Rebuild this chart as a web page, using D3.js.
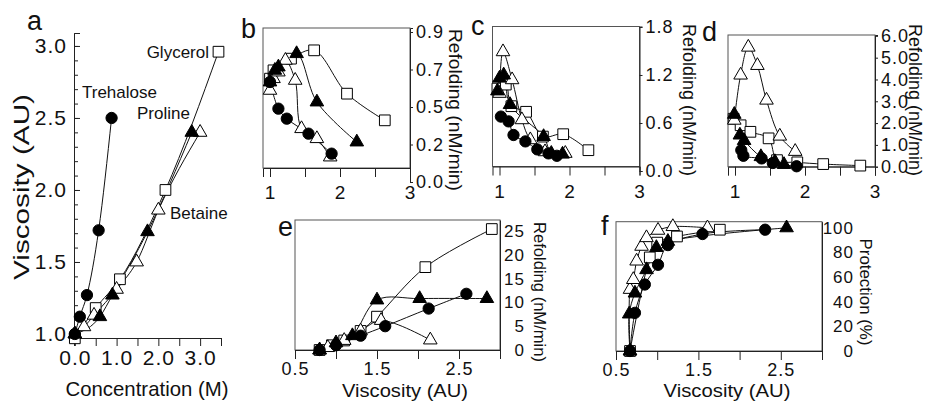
<!DOCTYPE html>
<html>
<head>
<meta charset="utf-8">
<script src="https://cdn.jsdelivr.net/npm/d3@7"></script>
<style>
body { margin: 0; background: #fff; }
svg text { font-family: "Liberation Sans", Arial, Helvetica, sans-serif; fill: #111; }
</style>
</head>
<body>
<div id="chart"></div>
<script>
const svgWidth = 927;
const svgHeight = 404;

// series order used in every panel
const seriesNames = ["Glycerol", "Betaine", "Proline", "Trehalose"];

// a: viscosity (AU) vs concentration (M)
const aGlycerol = [[0, 0.97], [0.5, 1.18], [1.08, 1.38], [2.17, 2.0], [3.44, 2.96]];
const aBetaine = [[0, 1.0], [0.22, 1.05], [0.46, 1.13], [1.0, 1.31], [1.48, 1.5], [2.0, 1.86], [3.0, 2.4]];
const aProline = [[0, 1.0], [0.6, 1.12], [0.9, 1.27], [1.74, 1.71], [2.8, 2.4]];
const aTrehalose = [[0, 1.0], [0.12, 1.12], [0.29, 1.27], [0.57, 1.72], [0.88, 2.5]];

// b: refolding vs viscosity
const bGlycerol = [[1.0, 0.62], [1.05, 0.67], [1.3, 0.74], [1.63, 0.79], [2.1, 0.53], [2.64, 0.37]];
const bBetaine = [[1.0, 0.55], [1.05, 0.62], [1.12, 0.66], [1.22, 0.73], [1.36, 0.61], [1.45, 0.32], [1.67, 0.26], [1.86, 0.15]];
const bProline = [[1.0, 0.6], [1.07, 0.67], [1.12, 0.69], [1.38, 0.77], [1.67, 0.48], [2.24, 0.24]];
const bTrehalose = [[1.0, 0.6], [1.12, 0.44], [1.24, 0.38], [1.55, 0.29], [1.88, 0.17]];

// c
const cGlycerol = [[0.97, 1.03], [1.09, 1.08], [1.17, 0.81], [1.38, 0.74], [1.62, 0.43], [1.91, 0.46], [2.27, 0.26]];
const cBetaine = [[1.0, 0.97], [1.05, 1.49], [1.18, 1.14], [1.32, 0.64], [1.44, 0.39], [1.65, 0.24], [1.94, 0.22]];
const cProline = [[0.97, 1.0], [1.0, 1.16], [1.06, 1.2], [1.15, 0.83], [1.63, 0.43], [1.74, 0.22], [1.9, 0.21]];
const cTrehalose = [[1.02, 0.68], [1.13, 0.62], [1.2, 0.45], [1.37, 0.37], [1.54, 0.27], [1.7, 0.22], [1.82, 0.19]];

// d
const dGlycerol = [[0.98, 2.2], [1.08, 1.9], [1.22, 1.6], [1.48, 1.3], [1.6, 0.3], [1.89, 0.2], [2.26, 0.12], [2.79, 0.05]];
const dBetaine = [[0.99, 2.13], [1.08, 4.2], [1.19, 5.48], [1.32, 4.64], [1.45, 3.05], [1.64, 1.4], [1.86, 0.7]];
const dProline = [[0.99, 2.4], [1.07, 1.45], [1.13, 1.2], [1.37, 0.46], [1.57, 0.23], [1.7, 0.1]];
const dTrehalose = [[1.09, 0.76], [1.12, 0.5], [1.38, 0.38], [1.54, 0.17], [1.88, 0.02]];

// e: refolding vs viscosity
const eGlycerol = [[0.8, 0], [0.95, 1], [1.1, 2], [1.3, 4], [1.5, 7], [2.09, 17.4], [2.9, 25.4]];
const eBetaine = [[0.8, 0], [0.9, 0.5], [1.1, 2], [1.3, 4], [1.55, 6.2], [2.15, 2.1]];
const eProline = [[0.8, 0], [1.0, 1.5], [1.2, 3], [1.5, 10.5], [2.02, 10.8], [2.84, 10.8]];
const eTrehalose = [[0.8, 0], [1.0, 1], [1.3, 3], [1.6, 5.0], [2.13, 8.7], [2.59, 11.8]];

// f: protection (%) vs viscosity
const fGlycerol = [[0.67, 0], [0.91, 76], [1.0, 88], [1.24, 93], [1.76, 98.5]];
const fBetaine = [[0.67, 0], [0.67, 50], [0.71, 58], [0.75, 73], [0.81, 85], [0.87, 92], [1.01, 98], [1.19, 101], [1.61, 100]];
const fProline = [[0.67, 0], [0.66, 30], [0.73, 47], [0.87, 66], [0.99, 84], [1.13, 89], [2.57, 100]];
const fTrehalose = [[0.67, 0], [0.73, 31], [0.85, 54], [1.01, 70], [1.13, 86], [1.55, 95], [2.31, 98.5]];

// tick values and labels
const aXTicks = [0, 1, 2, 3];
const aXTickLabels = ["0.0", "1.0", "2.0", "3.0"];
const aYTicks = [1.0, 1.5, 2.0, 2.5, 3.0];
const aYTickLabels = ["1.0", "1.5", "2.0", "2.5", "3.0"];
const bcdXTicks = [1, 2, 3];
const bcdXTickLabels = ["1", "2", "3"];
const bYTicks = [0, 0.225, 0.45, 0.675, 0.9];
const bYTickLabels = ["0.0", "0.2", "0.5", "0.7", "0.9"];
const cYTicks = [0, 0.6, 1.2, 1.8];
const cYTickLabels = ["0.0", "0.6", "1.2", "1.8"];
const dYTicks = [0, 1, 2, 3, 4, 5, 6];
const dYTickLabels = ["0.0", "1.0", "2.0", "3.0", "4.0", "5.0", "6.0"];
const efXTicks = [0.5, 1.5, 2.5];
const efXTickLabels = ["0.5", "1.5", "2.5"];
const eYTicks = [0, 5, 10, 15, 20, 25];
const eYTickLabels = ["0", "5", "10", "15", "20", "25"];
const fYTicks = [0, 20, 40, 60, 80, 100];
const fYTickLabels = ["0", "20", "40", "60", "80", "100"];

const svg = d3.select("#chart")
  .append("svg")
  .attr("width", svgWidth)
  .attr("height", svgHeight);

// marker look per series
const markStyle = {
  Glycerol: { shape: d3.symbolSquare, size: 115, fill: "#fff" },
  Betaine: { shape: d3.symbolTriangle, size: 80, fill: "#fff" },
  Proline: { shape: d3.symbolTriangle, size: 80, fill: "#000" },
  Trehalose: { shape: d3.symbolCircle, size: 100, fill: "#000" }
};

function labelFor(values, labels) {
  return d => labels[values.indexOf(d)] || "";
}

function drawSeries(g, x, y, list, curve) {
  const line = d3.line().x(d => x(d[0])).y(d => y(d[1])).curve(curve);
  list.forEach(data => {
    g.append("path")
      .datum(data)
      .attr("d", line)
      .attr("fill", "none")
      .attr("stroke", "#111")
      .attr("stroke-width", 1);
  });
  list.forEach((data, i) => {
    const st = markStyle[seriesNames[i]];
    g.selectAll(null)
      .data(data)
      .enter()
      .append("path")
      .attr("transform", d => `translate(${x(d[0])},${y(d[1])})`)
      .attr("d", d3.symbol().type(st.shape).size(st.size))
      .attr("fill", st.fill)
      .attr("stroke", "#000")
      .attr("stroke-width", 1);
  });
}

function styleAxis(sel, fontSize) {
  sel.selectAll("path.domain").attr("stroke", "#222");
  sel.selectAll(".tick line").attr("stroke", "#222");
  sel.selectAll("text")
    .attr("font-family", null)
    .style("font-size", fontSize + "px")
    .style("letter-spacing", "1px")
    .attr("fill", "#111");
}

function frame(g, x0, x1, y0, y1) {
  g.append("rect")
    .attr("x", x0).attr("y", y0)
    .attr("width", x1 - x0).attr("height", y1 - y0)
    .attr("fill", "none")
    .attr("stroke", "#555")
    .attr("stroke-width", 1);
}

function rotatedTitle(text, cx, cy, angle, len, size) {
  svg.append("text")
    .attr("transform", `translate(${cx},${cy}) rotate(${angle})`)
    .attr("text-anchor", "middle")
    .attr("dy", "0.35em")
    .attr("textLength", len)
    .attr("lengthAdjust", "spacingAndGlyphs")
    .style("font-size", size + "px")
    .text(text);
}

function panelLetter(t, x, y) {
  svg.append("text").attr("x", x).attr("y", y).style("font-size", "27px").text(t);
}

// ---------- panel a ----------
const xA = d3.scaleLinear().domain([-0.02, 3.5]).range([74, 221]);
const yA = d3.scaleLinear().domain([0.97, 3.09]).range([338.3, 33]);
const gA = svg.append("g");

gA.append("g")
  .attr("transform", "translate(0,338)")
  .call(d3.axisBottom(xA).tickValues(d3.range(0, 3.51, 0.5)).tickFormat(labelFor(aXTicks, aXTickLabels)).tickSizeOuter(0).tickSize(8).tickPadding(4))
  .call(s => styleAxis(s, 21));

gA.append("g")
  .attr("transform", "translate(74,0)")
  .call(d3.axisLeft(yA).tickValues(d3.range(1.0, 3.05, 0.1)).tickFormat("").tickSizeOuter(0).tickSize(-4))
  .call(s => styleAxis(s, 21));

gA.append("g")
  .attr("transform", "translate(74,0)")
  .call(d3.axisLeft(yA).tickValues(aYTicks).tickFormat(labelFor(aYTicks, aYTickLabels)).tickSizeOuter(0).tickSize(-6).tickPadding(7))
  .call(s => styleAxis(s, 21));

drawSeries(gA, xA, yA, [aGlycerol, aBetaine, aProline, aTrehalose], d3.curveMonotoneX);

gA.append("text").attr("x", 209).attr("y", 58).attr("text-anchor", "end").style("font-size", "17px").text("Glycerol");
gA.append("text").attr("x", 82).attr("y", 98).style("font-size", "17px").text("Trehalose");
gA.append("text").attr("x", 137).attr("y", 119).style("font-size", "17px").text("Proline");
gA.append("text").attr("x", 170).attr("y", 219).style("font-size", "17px").text("Betaine");

svg.append("text").attr("x", 147).attr("y", 396).attr("text-anchor", "middle")
  .attr("textLength", 163).attr("lengthAdjust", "spacingAndGlyphs")
  .style("font-size", "21px").text("Concentration (M)");
rotatedTitle("Viscosity (AU)", 21, 187, -90, 186, 22);
panelLetter("a", 27, 30);

// ---------- panels b, c, d ----------
function topPanel(cfg) {
  const g = svg.append("g");
  frame(g, cfg.x.range()[0], cfg.x.range()[1], cfg.top, cfg.bottom);

  g.append("g")
    .attr("transform", `translate(0,${cfg.bottom})`)
    .call(d3.axisBottom(cfg.x).tickValues([1, 1.5, 2, 2.5, 3]).tickFormat(labelFor(bcdXTicks, bcdXTickLabels)).tickSizeOuter(0).tickSize(9).tickPadding(9))
    .call(s => styleAxis(s, 19));

  g.append("g")
    .attr("transform", `translate(${cfg.x.range()[1]},0)`)
    .call(d3.axisRight(cfg.y).tickValues(cfg.yTicks).tickFormat(labelFor(cfg.yTicks, cfg.yLabels)).tickSizeOuter(0).tickSize(3).tickPadding(3))
    .call(s => styleAxis(s, 18));

  drawSeries(g, cfg.x, cfg.y, cfg.series, d3.curveCatmullRom.alpha(0.5));
}

const xB = d3.scaleLinear().domain([0.9, 3]).range([263, 410]);
const yB = d3.scaleLinear().domain([0, 0.924]).range([182, 28]);
topPanel({ x: xB, y: yB, top: 28, bottom: 168, yTicks: bYTicks, yLabels: bYTickLabels,
  series: [bGlycerol, bBetaine, bProline, bTrehalose] });

const xC = d3.scaleLinear().domain([0.9, 3]).range([492.5, 639.5]);
const yC = d3.scaleLinear().domain([0, 1.806]).range([171, 26.5]);
topPanel({ x: xC, y: yC, top: 26.5, bottom: 166.5, yTicks: cYTicks, yLabels: cYTickLabels,
  series: [cGlycerol, cBetaine, cProline, cTrehalose] });

const xD = d3.scaleLinear().domain([0.9, 3]).range([728, 875]);
const yD = d3.scaleLinear().domain([0, 6.04]).range([166.7, 35]);
topPanel({ x: xD, y: yD, top: 35, bottom: 166.7, yTicks: dYTicks, yLabels: dYTickLabels,
  series: [dGlycerol, dBetaine, dProline, dTrehalose] });

rotatedTitle("Refolding (nM/min)", 456, 110, 90, 162, 19);
rotatedTitle("Refolding (nM/min)", 690, 100, 90, 152, 19);
rotatedTitle("Refolding (nM/min)", 916, 100, 90, 152, 19);
panelLetter("b", 241, 38);
panelLetter("c", 471, 35);
panelLetter("d", 702, 41);

// ---------- panels e, f ----------
function bottomPanel(cfg) {
  const g = svg.append("g");
  frame(g, cfg.x.range()[0], cfg.x.range()[1], cfg.y.range()[1], cfg.y.range()[0]);

  g.append("g")
    .attr("transform", `translate(0,${cfg.y.range()[0]})`)
    .call(d3.axisBottom(cfg.x).tickValues([0.5, 1, 1.5, 2, 2.5, 3]).tickFormat(labelFor(efXTicks, efXTickLabels)).tickSizeOuter(0).tickSize(9).tickPadding(3))
    .call(s => styleAxis(s, 18));

  g.append("g")
    .attr("transform", `translate(${cfg.x.range()[1]},0)`)
    .call(d3.axisRight(cfg.y).tickValues(cfg.yTicks).tickFormat(labelFor(cfg.yTicks, cfg.yLabels)).tickSizeOuter(0).tickSize(0).tickPadding(cfg.labelRight))
    .call(s => styleAxis(s, 17))
    .call(s => s.selectAll("text").attr("text-anchor", "end"));

  drawSeries(g, cfg.x, cfg.y, cfg.series, d3.curveCatmullRom.alpha(0.5));
}

const xE = d3.scaleLinear().domain([0.5, 3]).range([295, 500]);
const yE = d3.scaleLinear().domain([0, 27.3]).range([350, 220]);
bottomPanel({ x: xE, y: yE, yTicks: eYTicks, yLabels: eYTickLabels, labelRight: 25,
  series: [eGlycerol, eBetaine, eProline, eTrehalose] });

const xF = d3.scaleLinear().domain([0.5, 3]).range([616, 822]);
const yF = d3.scaleLinear().domain([0, 105]).range([351, 221.7]);
bottomPanel({ x: xF, y: yF, yTicks: fYTicks, yLabels: fYTickLabels, labelRight: 32,
  series: [fGlycerol, fBetaine, fProline, fTrehalose] });

svg.append("text").attr("x", 405).attr("y", 397).attr("text-anchor", "middle")
  .attr("textLength", 126).attr("lengthAdjust", "spacingAndGlyphs")
  .style("font-size", "18px").text("Viscosity (AU)");
svg.append("text").attr("x", 727).attr("y", 397).attr("text-anchor", "middle")
  .attr("textLength", 127).attr("lengthAdjust", "spacingAndGlyphs")
  .style("font-size", "18px").text("Viscosity (AU)");
rotatedTitle("Refolding (nM/min)", 540, 292, 90, 140, 17);
rotatedTitle("Protection (%)", 866, 292, 90, 107, 17);
panelLetter("e", 278, 236);
panelLetter("f", 601, 235);
</script>
</body>
</html>
